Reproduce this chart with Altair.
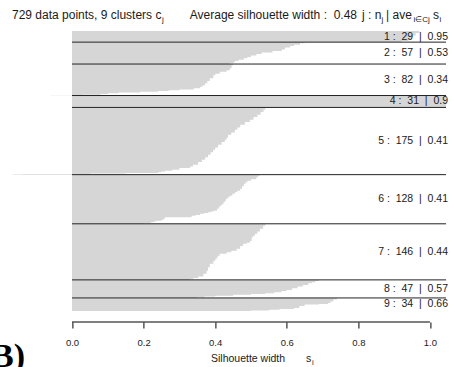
import altair as alt
import pandas as pd

# ---------------- data ----------------
cluster_ids = [1, 2, 3, 4, 5, 6, 7, 8, 9]
cluster_sizes = [29, 57, 82, 31, 175, 128, 146, 47, 34]
cluster_avgs = ["0.95", "0.53", "0.34", "0.9", "0.41", "0.41", "0.44", "0.57", "0.66"]

# silhouette profile of each cluster (sorted descending):
# rank (within cluster) where a run starts, and the silhouette width of that run
c1_rank = [0, 5, 12, 20, 26]
c1_val = [0.97, 0.96, 0.95, 0.94, 0.92]

c2_rank = [0, 3, 7, 10, 14, 19, 23, 27, 31, 35, 39, 42, 46, 49, 53, 55]
c2_val = [0.65, 0.637, 0.62, 0.609, 0.595, 0.586, 0.56, 0.53, 0.515, 0.5, 0.49, 0.48, 0.465, 0.455, 0.45, 0.44]

c3_rank = [0, 3, 11, 16, 20, 25, 29, 37, 44, 50, 55, 59, 63, 66, 68, 70, 72, 74, 76, 78, 80, 81]
c3_val = [0.45, 0.446, 0.441, 0.432, 0.413, 0.40, 0.395, 0.385, 0.378, 0.372, 0.365, 0.358, 0.34, 0.30,
          0.27, 0.24, 0.19, 0.13, 0.10, 0.08, 0.03, -0.06]

c4_rank = [0]
c4_val = [1.045]

c5_rank = [0, 6, 12, 19, 25, 32, 38, 45, 52, 58, 65, 71, 78, 84, 90, 97, 104, 110, 117, 123, 130, 136,
           142, 149, 154, 158, 162, 165, 167, 169, 171, 172, 173, 174]
c5_val = [0.54, 0.535, 0.527, 0.518, 0.507, 0.497, 0.483, 0.47, 0.462, 0.455, 0.445, 0.436, 0.432, 0.427,
          0.418, 0.408, 0.40, 0.394, 0.387, 0.38, 0.372, 0.363, 0.352, 0.338, 0.33, 0.30, 0.28, 0.26,
          0.25, 0.24, 0.15, 0.05, -0.137, -0.165]

c6_rank = [0, 3, 7, 12, 16, 20, 24, 30, 37, 42, 46, 50, 55, 59, 63, 68, 72, 77, 81, 85, 89, 94, 96, 98,
           100, 102, 105, 107, 111, 115, 118, 120, 122, 124, 126]
c6_val = [0.525, 0.52, 0.515, 0.50, 0.49, 0.485, 0.48, 0.475, 0.47, 0.462, 0.455, 0.448, 0.44, 0.435,
          0.43, 0.427, 0.423, 0.418, 0.413, 0.41, 0.405, 0.395, 0.388, 0.38, 0.37, 0.358, 0.345, 0.334,
          0.26, 0.255, 0.25, 0.235, 0.227, 0.22, 0.20]

c7_rank = [0, 5, 13, 20, 26, 31, 35, 45, 49, 52, 58, 65, 70, 74, 78, 83, 87, 92, 96, 104, 113, 122, 130,
           137, 141, 144]
c7_val = [0.54, 0.534, 0.525, 0.518, 0.511, 0.506, 0.502, 0.497, 0.488, 0.478, 0.47, 0.46, 0.445, 0.432,
          0.413, 0.408, 0.404, 0.40, 0.395, 0.385, 0.38, 0.376, 0.367, 0.353, 0.339, 0.33]

c8_rank = [0, 3, 6, 9, 13, 17, 22, 26, 29, 32, 35, 37, 39, 41, 43, 45]
c8_val = [0.69, 0.68, 0.67, 0.66, 0.645, 0.63, 0.615, 0.60, 0.585, 0.565, 0.54, 0.50, 0.45, 0.40, 0.37, 0.35]

c9_rank = [0, 4, 9, 13, 16, 17, 21, 26, 29, 31, 33]
c9_val = [0.74, 0.73, 0.722, 0.715, 0.69, 0.65, 0.635, 0.62, 0.58, 0.55, 0.50]

tick_values = [0.0, 0.2, 0.4, 0.6, 0.8, 1.0]

profiles = [(c1_rank, c1_val), (c2_rank, c2_val), (c3_rank, c3_val), (c4_rank, c4_val),
            (c5_rank, c5_val), (c6_rank, c6_val), (c7_rank, c7_val), (c8_rank, c8_val),
            (c9_rank, c9_val)]

# ---------------- tables built from the arrays ----------------
NB = "\u00a0"
rows, bounds, labs = [], [], []
offset = 0
for cid, n, avg, (ranks, vals) in zip(cluster_ids, cluster_sizes, cluster_avgs, profiles):
    for r, v in zip(ranks, vals):
        rows.append({"cluster": cid, "pos": offset + r, "s": v})
    rows.append({"cluster": cid, "pos": offset + n, "s": vals[-1]})  # bottom edge of last bar
    labs.append({"mid": offset + n / 2,
                 "label": f"{cid}{NB}:{NB}{NB}{n}{NB}{NB}|{NB}{NB}{avg}"})
    offset += n
    if cid != cluster_ids[-1]:
        bounds.append({"b": offset})
total = offset

df = pd.DataFrame(rows)
df_b = pd.DataFrame(bounds)
df_l = pd.DataFrame(labs)
one = pd.DataFrame({"k": [0]})

# ---------------- layout ----------------
W, H = 451, 280
PX = 1.26
LEFT = 72 - 0.2 * W / PX
TOP = 31
FONT = "Liberation Sans"
GRAY = "#d6d6d6"

xscale = alt.Scale(domain=[-0.2, 1.06], nice=False, zero=False)
yscale = alt.Scale(domain=[0, total], nice=False, zero=False, reverse=True)

area = alt.Chart(df).mark_area(orient="horizontal", interpolate="step-before", color=GRAY).encode(
    y=alt.Y("pos:Q", scale=yscale, axis=None),
    x=alt.X("s:Q", scale=xscale,
            axis=alt.Axis(values=tick_values, format=".1f", domain=False, grid=False, offset=11,
                          tickSize=6, tickColor="#000", tickWidth=1, labelFont=FONT,
                          labelFontSize=9.5, labelColor="#222", labelPadding=9, title=None)),
    x2=alt.datum(0),
    detail="cluster:N",
)

seps = alt.Chart(df_b).mark_rule(color="#222", strokeWidth=1).encode(
    y=alt.Y("b:Q", scale=yscale),
    x=alt.datum(0),
    x2=alt.datum(1.045),
)

labels = alt.Chart(df_l).mark_text(align="right", baseline="middle", font=FONT, fontSize=10.5,
                                   color="#1a1a1a").encode(
    y=alt.Y("mid:Q", scale=yscale),
    x=alt.value(448 - LEFT),
    text="label:N",
)

axis_line = alt.Chart(one).mark_rule(color="#000", strokeWidth=1).encode(
    x=alt.datum(0), x2=alt.datum(1), y=alt.value(322 - TOP)
)


def txt(t, x, y, size=12, align="left", **kw):
    return alt.Chart(one).mark_text(text=t, align=align, baseline="alphabetic", font=kw.pop("font", FONT),
                                    fontSize=size, color=kw.pop("color", "#1a1a1a"), **kw).encode(
        x=alt.value(x - LEFT), y=alt.value(y - TOP))


HB = 19  # header baseline
header = [
    txt("729 data points, 9 clusters c", 12, HB),
    txt("j", 162, HB + 3, size=8),
    txt(f"Average silhouette width :{NB}{NB}0.48", 357, HB, align="right"),
    txt(f"j{NB}:{NB}n", 362, HB),
    txt("j", 381.5, HB + 3, size=8),
    txt(f"|{NB}ave", 386, HB),
    txt("i\u2208Cj", 413.5, HB + 3, size=8),
    txt("s", 433, HB),
    txt("i", 439.5, HB + 3, size=8),
]

xlab = [
    txt("Silhouette width", 211, 362, size=10.5),
    txt("s", 306, 362, size=10.5),
    txt("i", 312, 365, size=7.5),
]

panel = txt("(B)", 25, 367, size=34, align="right", font="Liberation Serif", fontWeight="bold",
            color="#000")

chart = alt.layer(area, seps, labels, axis_line, *header, *xlab, panel).properties(
    width=W, height=H,
    background="white",
    autosize=alt.AutoSizeParams(type="none"),
    padding={"left": LEFT, "top": TOP, "right": 454 - W - LEFT, "bottom": 367 - H - TOP},
).configure_view(stroke=None, strokeWidth=0)

chart.save("out.html", embed_options={"renderer": "svg", "actions": False})
